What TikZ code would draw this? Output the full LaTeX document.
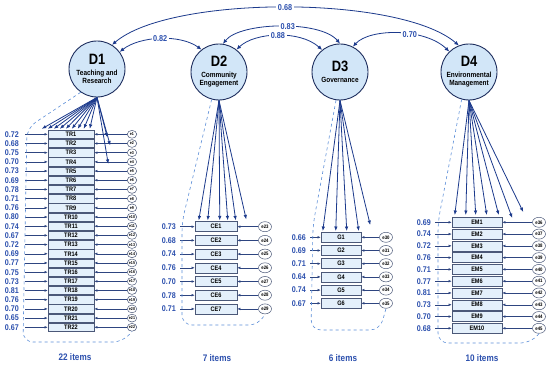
\documentclass[tikz,border=0pt]{standalone}
\usepackage{fontspec}
\setmainfont{Liberation Sans}[FakeStretch=0.86]
\usepackage{tikz}
\usetikzlibrary{positioning,arrows.meta,shapes.geometric}
\definecolor{navy}{HTML}{1C3A8C}
\definecolor{loadblue}{HTML}{2C50AE}
\definecolor{latfill}{HTML}{D2E6F8}
\definecolor{latline}{HTML}{1E2E5E}
\definecolor{itemfill}{HTML}{E4F0FB}
\definecolor{itemline}{HTML}{4B5878}
\definecolor{indline}{HTML}{2E4580}
\definecolor{dashblue}{HTML}{5C8ED8}
\tikzset{
  covarrow/.style={{Latex[length=4.5pt,width=4pt]}-{Latex[length=4.5pt,width=4pt]}, navy, line width=0.8pt},
  loadarrow/.style={-{Latex[length=4.5pt,width=3.5pt]}, navy, line width=0.8pt},
  indarrow/.style={-{Latex[length=3.2pt,width=2.6pt]}, indline, line width=0.5pt},
  latent/.style={circle, draw=latline, line width=0.9pt, fill=latfill, minimum size=56pt, inner sep=0pt, align=center, font=\fontsize{7.5}{8.5}\selectfont\bfseries},
  itembox/.style={draw=itemline, line width=0.5pt, fill=itemfill, inner sep=0pt, minimum height=10pt, font=\fontsize{6.5}{6.5}\selectfont\bfseries},
  errnode/.style={ellipse, draw=itemline, line width=0.5pt, fill=white, inner sep=0pt, minimum width=13pt, minimum height=10pt, font=\fontsize{5}{5}\selectfont\bfseries},
  loadlabel/.style={anchor=east, inner sep=0pt, text=loadblue, font=\fontsize{8.3}{8.3}\selectfont\bfseries},
  covlabel/.style={fill=white, inner sep=1.5pt, text=loadblue, font=\fontsize{8.5}{8.5}\selectfont\bfseries},
  countlabel/.style={text=loadblue, font=\fontsize{9.5}{9.5}\selectfont\bfseries},
  groupdash/.style={dashed, draw=dashblue, line width=0.6pt, rounded corners=10pt}
}
\newcommand{\dimtitle}[1]{{\fontsize{15}{15}\selectfont #1}}

\begin{document}
\begin{tikzpicture}[x=1pt, y=-1pt]
  \useasboundingbox[fill=white] (0,0) rectangle (550,366);

  \node[latent] (D1) at (97,69) {\dimtitle{D1}\\[2pt]Teaching and\\Research};
  \node[latent] (D2) at (219,72) {\dimtitle{D2}\\[2pt]Community\\Engagement};
  \node[latent] (D3) at (340,72) {\dimtitle{D3}\\[3pt]Governance};
  \node[latent] (D4) at (469,72) {\dimtitle{D4}\\[2pt]Environmental\\Management};

  % correlations between dimensions
  \draw[covarrow] (D1.58) .. controls (170,-5) and (400,-5) .. node[covlabel, pos=0.5] {0.68} (D4.111);
  \draw[covarrow] (D1.37) .. controls (140,36) and (180,34) .. node[covlabel] {0.82} (D2.128);
  \draw[covarrow] (D2.82) .. controls (240,22) and (320,20) .. node[covlabel, pos=0.55] {0.83} (D3.90);
  \draw[covarrow] (D2.52) .. controls (255,32) and (300,30) .. node[covlabel] {0.88} (D3.129);
  \draw[covarrow] (D3.63) .. controls (370,28) and (425,28) .. node[covlabel, pos=0.6] {0.70} (D4.134);

  % D1 items
  \foreach \val [count=\i] in {0.72,0.68,0.75,0.70,0.73,0.69,0.78,0.71,0.76,0.80,0.74,0.67,0.72,0.69,0.77,0.75,0.73,0.81,0.76,0.70,0.65,0.67}{
    \pgfmathsetmacro\yy{134.3+(\i-1)*9.19}
    \node[itembox, minimum width=46pt, minimum height=8.4pt] (TR\i) at (71,\yy) {TR\i};
    \node[loadlabel] (LT\i) at (19,\yy) {\val};
    \node[errnode, minimum width=9.5pt, minimum height=7.8pt, font=\fontsize{4.2}{4.2}\selectfont\bfseries] (e\i) at (132,\yy) {e\i};
    \draw[indarrow] ([xshift=6pt]LT\i.east) -- (TR\i);
    \draw[indarrow] (e\i) -- (TR\i);
  }
  \foreach \dx in {-6,0,6,12,18,24,30,36,42}
    \draw[loadarrow] (D1.south) -- ([xshift=\dx pt, yshift=1pt]TR1.north west);
  \draw[loadarrow] (D1.south) -- ([xshift=13pt, yshift=-3pt]TR1.east);
  \draw[loadarrow] (D1.south) -- ([xshift=16pt, yshift=-2pt]TR2.east);
  \draw[loadarrow] (D1.south) -- ([xshift=14pt, yshift=-2pt]TR4.east);
  \draw[groupdash] (D1.235) -- (27,128) -- (23,342) -- (123,342) -- (e22.south);
  \node[countlabel] (n1) at (75,357) {22 items};

  % D2 items
  \foreach \val [count=\i] in {0.73,0.68,0.74,0.76,0.70,0.78,0.71}{
    \pgfmathsetmacro\yy{226.7+(\i-1)*13.7}
    \pgfmathtruncatemacro\ei{22+\i}
    \node[itembox, minimum width=42pt] (CE\i) at (216,\yy) {CE\i};
    \node[loadlabel] (LC\i) at (176,\yy) {\val};
    \node[errnode] (e\ei) at (265,\yy) {e\ei};
    \draw[indarrow] ([xshift=4pt]LC\i.east) -- (CE\i);
    \draw[indarrow] (e\ei) -- (CE\i);
  }
  \foreach \dx in {4,13,25,33,41}
    \draw[loadarrow] (D2.south) -- ([xshift=\dx pt, yshift=1pt]CE1.north west);
  \draw[loadarrow] (D2.south) -- ([xshift=9pt, yshift=2pt]CE1.north east);
  \draw[groupdash] (D2.255) -- (182,222) -- (182,325) -- (259,325) -- (e29.south);
  \node[countlabel] (n2) at (217,358) {7 items};

  % D3 items
  \foreach \val [count=\i] in {0.66,0.69,0.71,0.64,0.74,0.67}{
    \pgfmathsetmacro\yy{237.3+(\i-1)*13.2}
    \pgfmathtruncatemacro\ei{29+\i}
    \node[itembox, minimum width=40pt] (G\i) at (341,\yy) {G\i};
    \node[loadlabel] (LG\i) at (306,\yy) {\val};
    \node[errnode] (e\ei) at (386,\yy) {e\ei};
    \draw[indarrow] ([xshift=4pt]LG\i.east) -- (G\i);
    \draw[indarrow] (e\ei) -- (G\i);
  }
  \foreach \dx in {2,15,26,38}
    \draw[loadarrow] (D3.south) -- ([xshift=\dx pt, yshift=1pt]G1.north west);
  \draw[loadarrow] (D3.south) -- ([xshift=9pt, yshift=7pt]G1.north east);
  \draw[groupdash] (D3.262) -- (313,225) -- (311,330) -- (380,330) -- (e35.south);
  \node[countlabel] (n3) at (343,358) {6 items};

  % D4 items
  \foreach \val [count=\i] in {0.69,0.74,0.72,0.76,0.71,0.77,0.81,0.73,0.70,0.68}{
    \pgfmathsetmacro\yy{222.3+(\i-1)*11.78}
    \pgfmathtruncatemacro\ei{35+\i}
    \node[itembox, minimum width=50pt] (EM\i) at (477,\yy) {EM\i};
    \node[loadlabel] (LE\i) at (431,\yy) {\val};
    \node[errnode] (e\ei) at (539,\yy) {e\ei};
    \draw[indarrow] ([xshift=4pt]LE\i.east) -- (EM\i);
    \draw[indarrow] (e\ei) -- (EM\i);
  }
  \foreach \dx in {3,14,24,35,47}
    \draw[loadarrow] (D4.south) -- ([xshift=\dx pt, yshift=2pt]EM1.north west);
  \draw[loadarrow] (D4.south) -- ([xshift=10pt, yshift=-1pt]EM1.north east);
  \draw[loadarrow] (D4.south) -- ([xshift=21pt, yshift=5pt]EM1.north east);
  \draw[groupdash] (D4.255) -- (438,222) -- (438,343) -- (531,343) -- (e45.south);
  \node[countlabel] (n4) at (482,358) {10 items};
\end{tikzpicture}
\end{document}
